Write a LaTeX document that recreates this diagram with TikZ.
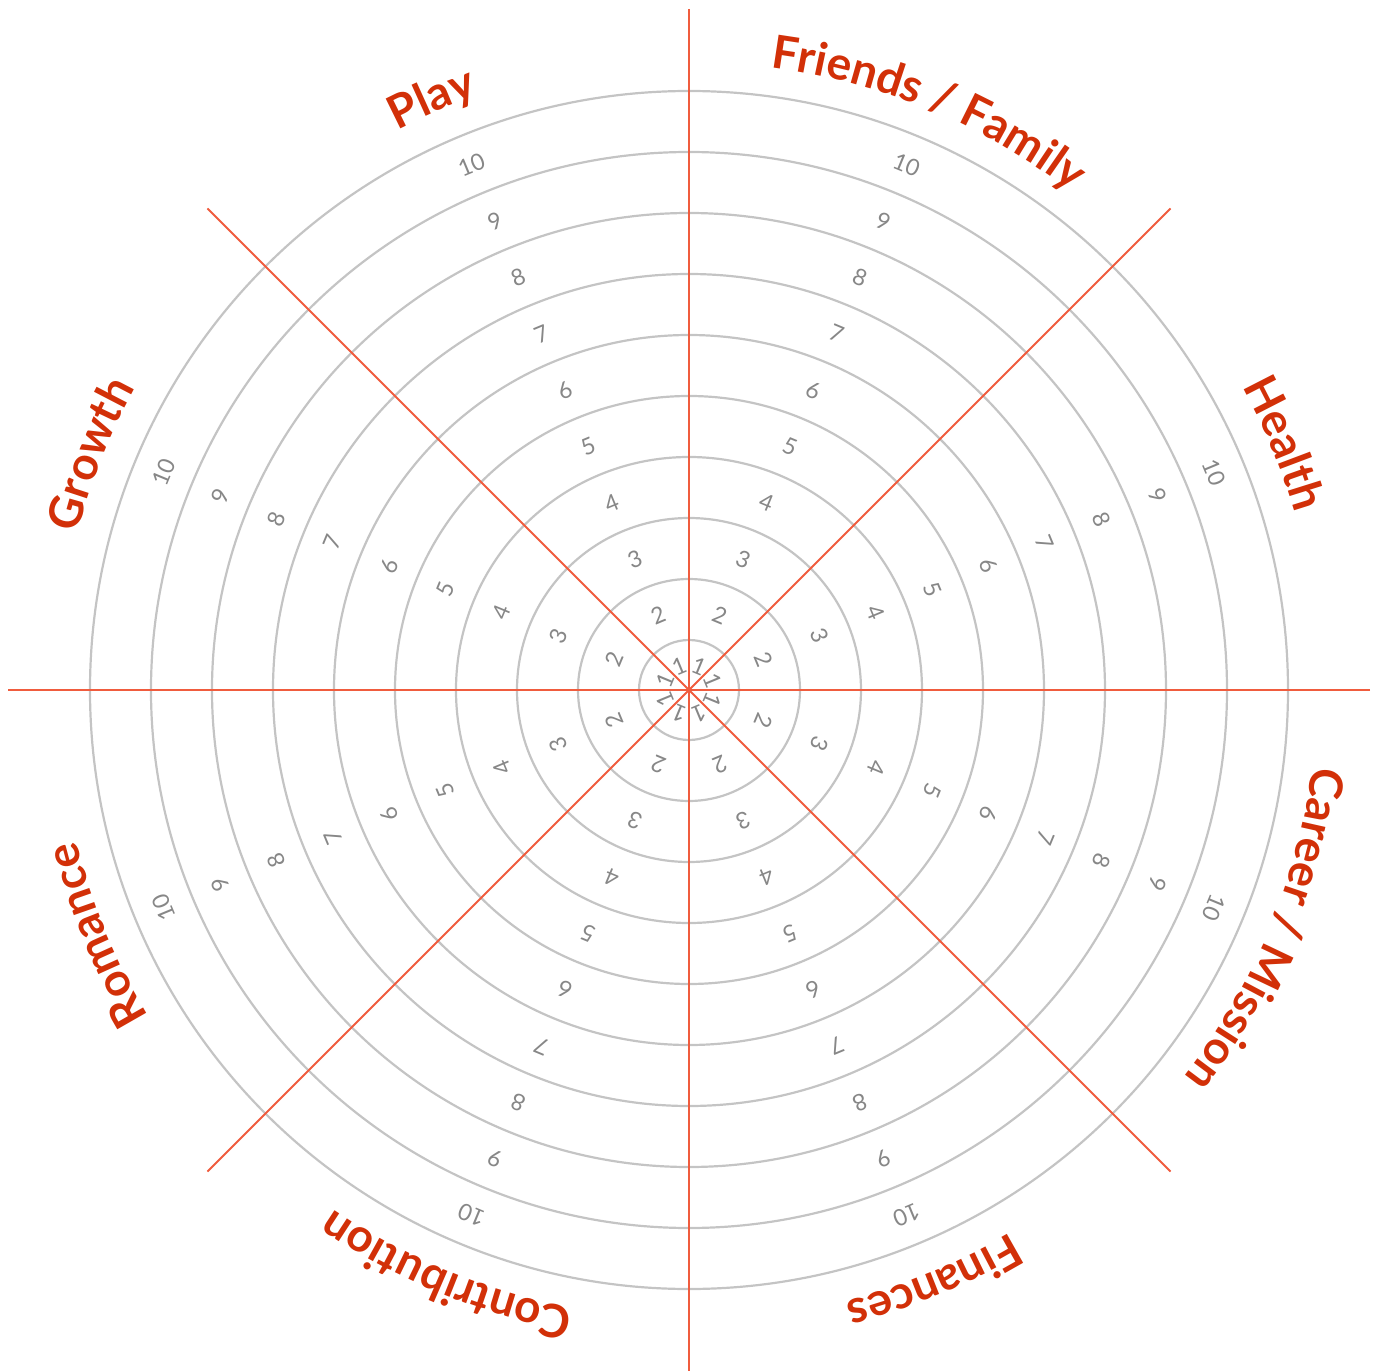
\documentclass[tikz,border=0pt]{standalone}
\usepackage{fontspec}
\setmainfont{Lato}
\usetikzlibrary{decorations.text}

\definecolor{ringgray}{RGB}{196,196,196}
\definecolor{scoregray}{RGB}{135,135,135}
\definecolor{spokered}{RGB}{240,92,62}
\definecolor{labelred}{RGB}{210,48,8}
\newcommand{\catfont}{\bfseries\fontsize{46}{50}\selectfont}

\begin{document}
\begin{tikzpicture}[x=1pt, y=1pt,
  ring/.style={ringgray, line width=2.2pt},
  spoke/.style={spokered, line width=1.8pt},
  score/.style={scoregray, font=\fontsize{23}{25}\selectfont, inner sep=0pt},
  category/.style={decorate, decoration={text along path, text align=center,
    text color=labelred, text={|\catfont|#1}}}]

  \useasboundingbox (-689,-681) rectangle (692,690);

  %% Rings 1 to 10
  \foreach \k in {1,...,10}
    \draw[ring] (0,0) circle[radius={50+61*(\k-1)}];

  %% Spokes between the sectors
  \foreach \a in {0,45,90,135}
    \draw[spoke] (\a:681) -- (\a+180:681);
  \fill[spokered] (0,0) circle[radius=2.5];

  %% Scores, one per ring in every sector
  \foreach \a [count=\j] in {22.5,67.5,...,337.5}
    \foreach \k in {1,...,10}{
      \pgfmathsetmacro{\rr}{max(61*\k-41.5,26)}
      \node[score, rotate=\a-90] (s-\j-\k) at (\a:\rr) {\k};
    }

  %% Category names along the outer circle (clockwise)
  \path[category={Friends / Family}] (107.5:628) arc[start angle=107.5, end angle=27.5, radius=628];
  \path[category={Health}] (62.5:631) arc[start angle=62.5, end angle=-17.5, radius=631];
  \path[category={Career / Mission}] (17.5:628) arc[start angle=17.5, end angle=-62.5, radius=628];
  \path[category={Finances}] (-27.5:631) arc[start angle=-27.5, end angle=-107.5, radius=631];
  \path[category={Contribution}] (-72.5:629) arc[start angle=-72.5, end angle=-152.5, radius=629];
  \path[category={Romance}] (-117.5:631) arc[start angle=-117.5, end angle=-197.5, radius=631];
  \path[category={Growth}] (198.5:631) arc[start angle=198.5, end angle=118.5, radius=631];
  \path[category={Play}] (153.5:631) arc[start angle=153.5, end angle=73.5, radius=631];

\end{tikzpicture}
\end{document}
